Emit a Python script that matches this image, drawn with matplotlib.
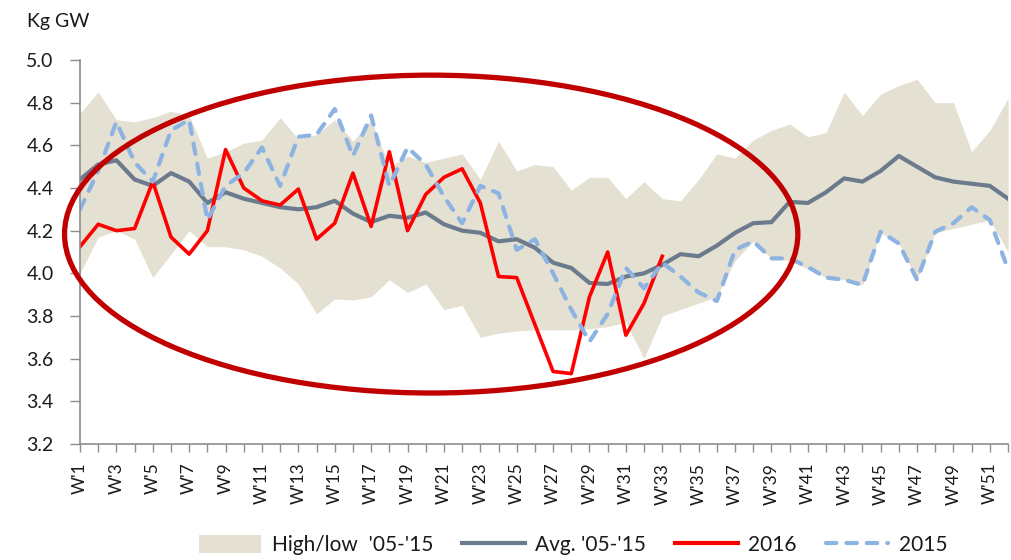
import matplotlib.pyplot as plt
from matplotlib.patches import Ellipse, Patch
from matplotlib.lines import Line2D

plt.rcParams["font.family"] = ["Lato", "DejaVu Sans"]

weeks = list(range(1, 53))
week_labels = [f"W'{w}" if w % 2 == 1 else "" for w in weeks]

band_high = [4.75, 4.85, 4.72, 4.71, 4.73, 4.76, 4.74, 4.54, 4.57, 4.61,
             4.625, 4.73, 4.63, 4.65, 4.72, 4.62, 4.72, 4.50, 4.55, 4.52,
             4.54, 4.56, 4.44, 4.62, 4.48, 4.51, 4.50, 4.39, 4.45, 4.45,
             4.35, 4.43, 4.35, 4.34, 4.44, 4.56, 4.54, 4.625, 4.67, 4.70,
             4.64, 4.66, 4.85, 4.74, 4.84, 4.88, 4.91, 4.80, 4.80, 4.57,
             4.67, 4.82]
band_low = [4.00, 4.17, 4.20, 4.16, 3.98, 4.09, 4.20, 4.125, 4.125, 4.11,
            4.08, 4.025, 3.95, 3.81, 3.88, 3.875, 3.89, 3.97, 3.91, 3.95,
            3.83, 3.85, 3.70, 3.72, 3.73, 3.735, 3.735, 3.735, 3.74, 3.75,
            3.77, 3.60, 3.80, 3.83, 3.86, 3.89, 4.06, 4.15, 4.07, 4.06,
            4.02, 3.98, 3.97, 3.945, 4.19, 4.14, 3.97, 4.19, 4.21, 4.23,
            4.25, 4.10]
avg_05_15 = [4.44, 4.51, 4.53, 4.44, 4.41, 4.47, 4.43, 4.33, 4.38, 4.35,
             4.33, 4.31, 4.30, 4.31, 4.34, 4.28, 4.24, 4.27, 4.26, 4.285,
             4.23, 4.20, 4.19, 4.15, 4.16, 4.12, 4.05, 4.025, 3.955, 3.95,
             3.985, 4.00, 4.04, 4.09, 4.08, 4.13, 4.19, 4.235, 4.24, 4.335,
             4.33, 4.38, 4.445, 4.43, 4.48, 4.55, 4.50, 4.45, 4.43, 4.42,
             4.41, 4.35]
y2015 = [4.30, 4.48, 4.71, 4.52, 4.43, 4.67, 4.72, 4.25, 4.41, 4.47,
         4.59, 4.41, 4.64, 4.65, 4.77, 4.55, 4.74, 4.41, 4.59, 4.51,
         4.36, 4.235, 4.41, 4.375, 4.11, 4.16, 4.00, 3.83, 3.68, 3.81,
         4.025, 3.93, 4.05, 3.985, 3.91, 3.87, 4.11, 4.15, 4.07, 4.07,
         4.03, 3.98, 3.97, 3.945, 4.195, 4.14, 3.97, 4.195, 4.235, 4.31,
         4.25, 4.02]
y2016 = [4.125, 4.23, 4.20, 4.21, 4.43, 4.17, 4.09, 4.20, 4.58, 4.40,
         4.34, 4.32, 4.395, 4.16, 4.235, 4.47, 4.22, 4.57, 4.20, 4.37,
         4.45, 4.49, 4.33, 3.985, 3.98, 3.76, 3.54, 3.53, 3.89, 4.10,
         3.71, 3.86, 4.08]

c_band = "#E4E1D3"
c_avg = "#6B7A8C"
c_2016 = "#FF0000"
c_2015 = "#8DB3E2"

fig = plt.figure(figsize=(10.11, 5.6), dpi=100)
ax = fig.add_axes([80 / 1011, 116 / 560, 928 / 1011, 384 / 560])

ax.fill_between(weeks, band_low, band_high, color=c_band, lw=0)
ax.plot(weeks, avg_05_15, color=c_avg, lw=3.0, solid_joinstyle="round")
ax.plot(weeks[:len(y2016)], y2016, color=c_2016, lw=2.6, solid_joinstyle="round")
ax.plot(weeks, y2015, color=c_2015, lw=3.0, dashes=(2.5, 2.4),
        dash_capstyle="round")

# highlight ring around 2016 so far
ax.add_patch(Ellipse((20.3, 4.184), width=40.3, height=1.49, fill=False,
                     edgecolor="#C00000", lw=3.8, clip_on=False, zorder=5))

ax.set_xlim(1, 52)
ax.set_ylim(3.2, 5.0)
ax.set_yticks([3.2, 3.4, 3.6, 3.8, 4.0, 4.2, 4.4, 4.6, 4.8, 5.0])
ax.set_yticklabels([f"{v:.1f}" for v in ax.get_yticks()])
ax.set_xticks(weeks)
ax.set_xticklabels(week_labels, rotation=90)

for s in ["top", "right"]:
    ax.spines[s].set_visible(False)
for s in ["left", "bottom"]:
    ax.spines[s].set_color("#8C8C8C")
    ax.spines[s].set_linewidth(1.2)
ax.tick_params(axis="y", length=7, width=1.0, color="#8C8C8C",
               labelsize=14, labelcolor="#1A1A1A", pad=12)
ax.tick_params(axis="x", length=5.5, width=1.0, color="#8C8C8C",
               labelsize=12.5, labelcolor="#1A1A1A", pad=8)

fig.text(27 / 1011, 1 - 21 / 560, "Kg GW", fontsize=14, color="#1A1A1A",
         va="center", ha="left")

handles = [
    Patch(facecolor=c_band, edgecolor="none"),
    Line2D([], [], color=c_avg, lw=3.0),
    Line2D([], [], color=c_2016, lw=3.0),
    Line2D([], [], color=c_2015, lw=3.0, dashes=(2.5, 2.4), dash_capstyle="round"),
]
labels = ["High/low  '05-'15", "Avg. '05-'15", "2016", "2015"]
fig.legend(handles, labels, loc="center", bbox_to_anchor=(573 / 1011, 15 / 560),
           ncol=4, frameon=False, fontsize=15, handlelength=3.0,
           handleheight=1.0, handletextpad=0.5, columnspacing=1.4,
           labelcolor="#1A1A1A")

fig.savefig("out.png", dpi=100)
